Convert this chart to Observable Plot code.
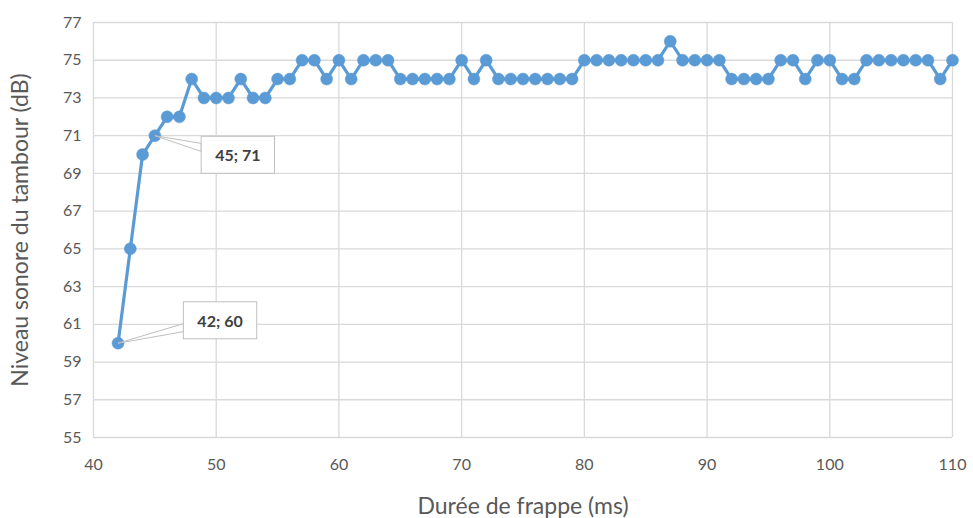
<!DOCTYPE html>
<html>
<head>
<meta charset="utf-8">
<script src="https://cdn.jsdelivr.net/npm/d3@7"></script>
<script src="https://cdn.jsdelivr.net/npm/@observablehq/plot@0.6"></script>
<style>
  body { margin: 0; background: #fff; }
  #chart svg { font-family: Lato, "Open Sans", sans-serif; background: #fff; }
</style>
</head>
<body>
<div id="chart"></div>
<script>
// Durée de frappe (ms)
const durations = [42,43,44,45,46,47,48,49,50,51,
  52,53,54,55,56,57,58,59,60,61,
  62,63,64,65,66,67,68,69,70,71,
  72,73,74,75,76,77,78,79,80,81,
  82,83,84,85,86,87,88,89,90,91,
  92,93,94,95,96,97,98,99,100,101,
  102,103,104,105,106,107,108,109,110];
// Niveau sonore du tambour (dB)
const levels = [60,65,70,71,72,72,74,73,73,73,
  74,73,73,74,74,75,75,74,75,74,
  75,75,75,74,74,74,74,74,75,74,
  75,74,74,74,74,74,74,74,75,75,
  75,75,75,75,75,76,75,75,75,75,
  74,74,74,74,75,75,74,75,75,74,
  74,75,75,75,75,75,75,74,75];
const xTicks = [40,50,60,70,80,90,100,110];
const yTicks = [55,57,59,61,63,65,67,69,71,73,75,77];
const annotatedDurations = [42, 45];

const data = durations.map((d, i) => ({d, v: levels[i]}));
const annoData = data.filter(p => annotatedDurations.includes(p.d))
  .map(p => ({...p, label: `${p.d}; ${p.v}`}));
const offsets = {42: [102, -22], 45: [83, 20]};

const blue = "#5b9bd5";
const grid = "#d9d9d9";
const textCol = "#595959";

const chart = Plot.plot({
  width: 973,
  height: 518,
  marginLeft: 93,
  marginRight: 21,
  marginTop: 22,
  marginBottom: 81,
  style: {fontSize: "16px", color: textCol, fontFamily: "Lato, 'Open Sans', sans-serif"},
  x: {domain: [40, 110]},
  y: {domain: [55, 77]},
  marks: [
    Plot.gridX(xTicks, {stroke: grid, strokeOpacity: 1, strokeWidth: 1.3}),
    Plot.gridY(yTicks, {stroke: grid, strokeOpacity: 1, strokeWidth: 1.3}),
    Plot.axisX(xTicks, {tickSize: 0, tickPadding: 21, fill: textCol, fontSize: 16, label: null}),
    Plot.axisX([], {tickSize: 0, fill: textCol, fontSize: 23,
      label: "Durée de frappe (ms)", labelAnchor: "center", labelOffset: 76, labelArrow: "none"}),
    Plot.axisY(yTicks, {tickSize: 0, tickPadding: 12, fill: textCol, fontSize: 16, label: null}),
    Plot.axisY([], {tickSize: 0, fill: textCol, fontSize: 23,
      label: "Niveau sonore du tambour (dB)", labelAnchor: "center", labelOffset: 82, labelArrow: "none"}),
    Plot.line(data, {x: "d", y: "v", stroke: blue, strokeWidth: 3.2}),
    Plot.dot(data, {x: "d", y: "v", r: 6, fill: blue, stroke: blue, strokeWidth: 0.5}),
    Plot.text(annoData, {x: "d", y: "v", text: "label", className: "anno",
      fill: "#404040", fontWeight: "bold", fontSize: 16})
  ]
});
document.getElementById("chart").appendChild(chart);

// Position callout labels and draw their boxes & wedges
const svg = d3.select(chart);
const sx = chart.scale("x"), sy = chart.scale("y");
svg.selectAll("g.anno text").each(function(_, i) {
  const p = annoData[i];
  const [ox, oy] = offsets[p.d];
  const t = d3.select(this);
  const px = sx.apply(p.d), py = sy.apply(p.v);
  t.attr("transform", null).attr("x", px + ox).attr("y", py + oy)
   .attr("text-anchor", "middle").attr("dy", "0.35em");
  const bb = this.getBBox();
  const padX = 14, padY = 9;
  const bx = bb.x - padX, by = bb.y - padY, bw = bb.width + 2 * padX, bh = bb.height + 2 * padY;
  const baseC = Math.max(by + bh * 0.3, Math.min(by + bh * 0.7, py));
  const g = d3.select(this.parentNode);
  g.insert("polygon", () => this)
    .attr("points", `${px},${py} ${bx},${baseC - 4} ${bx},${baseC + 4}`)
    .attr("fill", "#fff").attr("stroke", "#bfbfbf").attr("stroke-width", 1);
  g.insert("rect", () => this)
    .attr("x", bx).attr("y", by).attr("width", bw).attr("height", bh)
    .attr("fill", "#fff").attr("stroke", "#bfbfbf").attr("stroke-width", 1);
});
</script>
</body>
</html>
